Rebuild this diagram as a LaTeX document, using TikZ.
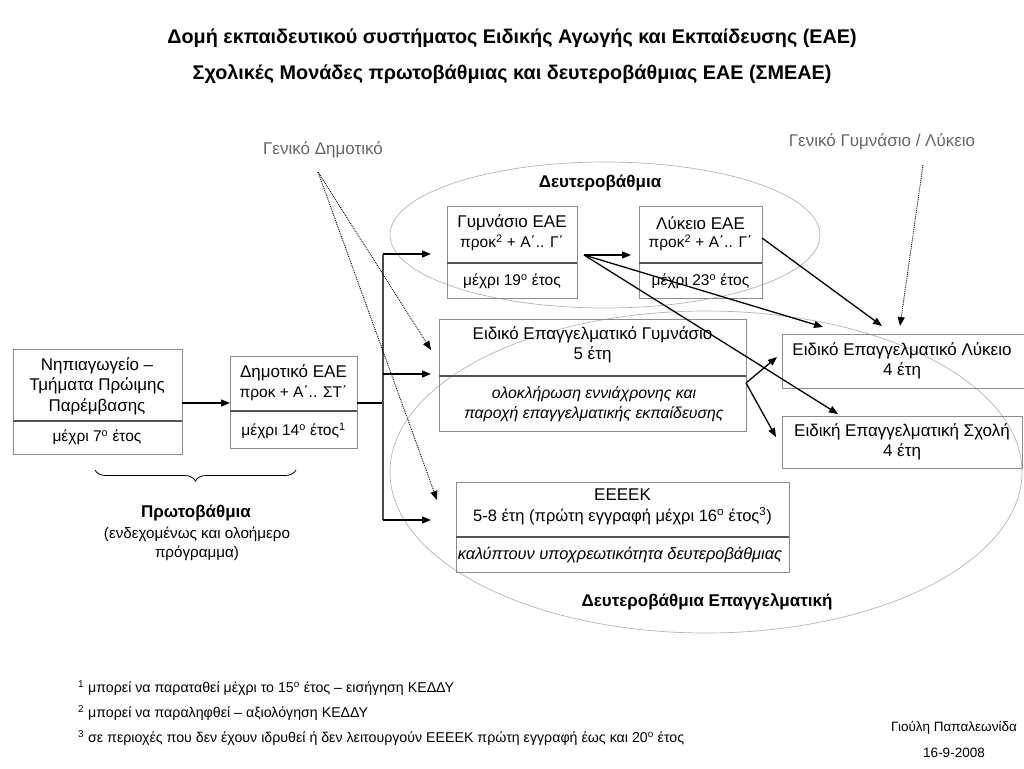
\documentclass[tikz,border=0pt]{standalone}
\usepackage{fontspec}
\setmainfont{Liberation Sans}
\usetikzlibrary{arrows.meta,decorations.pathreplacing}
\definecolor{boxgray}{HTML}{8C8C8C}
\definecolor{divgray}{HTML}{555555}
\definecolor{ellgray}{HTML}{B4B4B4}
\definecolor{labgray}{HTML}{666666}
\newcommand{\smalltx}{\fontsize{15.5}{19}\selectfont}
\begin{document}
\begin{tikzpicture}[x=1pt,y=-1pt,
  box/.style={draw=boxgray, line width=0.9pt, inner sep=0pt, outer sep=0pt, anchor=north west},
  divline/.style={draw=divgray, line width=1.6pt},
  txt/.style={align=center, inner sep=0pt, font=\fontsize{17}{20.5}\selectfont},
  itx/.style={align=center, inner sep=0pt, font=\fontsize{15.8}{19.5}\selectfont\itshape},
  arr/.style={line width=1.3pt, -{Triangle[length=9pt,width=7pt]}},
  plain/.style={line width=1.3pt},
  dotarr/.style={line width=0.9pt, densely dotted, -{Triangle[length=9pt,width=7pt]}},
  ell/.style={draw=ellgray, line width=0.7pt},
  title/.style={inner sep=0pt, font=\fontsize{19.8}{22}\selectfont\bfseries},
  lab/.style={inner sep=0pt, text=labgray, font=\fontsize{17}{20}\selectfont},
  blab/.style={inner sep=0pt, align=center, font=\fontsize{17}{20}\selectfont\bfseries},
  foot/.style={inner sep=0pt, anchor=west, font=\fontsize{14.2}{17}\selectfont},
  sig/.style={inner sep=0pt, font=\fontsize{13.5}{16}\selectfont}
]
\useasboundingbox (0,0) rectangle (1024,768);

% titles
\node[title] (t1) at (512,38) {Δομή εκπαιδευτικού συστήματος Ειδικής Αγωγής και Εκπαίδευσης (ΕΑΕ)};
\node[title] (t2) at (512,74) {Σχολικές Μονάδες πρωτοβάθμιας και δευτεροβάθμιας ΕΑΕ (ΣΜΕΑΕ)};

% ellipses
\draw[ell] (605,235) ellipse [x radius=215, y radius=73];
\draw[ell] (706,472) ellipse [x radius=316, y radius=161];
\node[blab] (deut) at (600,183) {Δευτεροβάθμια};
\node[blab] (deutep) at (707,602) {Δευτεροβάθμια Επαγγελματική};

% gray labels
\node[lab] (gd) at (323,150) {Γενικό Δημοτικό};
\node[lab] (gg) at (882,142) {Γενικό Γυμνάσιο / Λύκειο};

% Nipiagogeio
\node[box, minimum width=169pt, minimum height=105pt] (nip) at (13,349) {};
\node[txt] (nipT) at (97,386) {Νηπιαγωγείο –\\Τμήματα Πρώιμης\\Παρέμβασης};
\node[txt] (nipB) at (97,437) {\smalltx μέχρι 7\textsuperscript{ο} έτος};
\draw[divline] (nip.west |- 0,421) -- (nip.east |- 0,421);

% Dimotiko
\node[box, minimum width=127pt, minimum height=92pt] (dim) at (230,356) {};
\node[txt] (dimT) at (293.5,373) {Δημοτικό ΕΑΕ};
\node[txt] (dimT2) at (293.5,393) {\smalltx προκ + Α΄.. ΣΤ΄};
\node[txt] (dimB) at (293.5,431) {\smalltx μέχρι 14\textsuperscript{ο} έτος\textsuperscript{1}};
\draw[divline] (dim.west |- 0,411) -- (dim.east |- 0,411);

% Gymnasio EAE
\node[box, minimum width=130pt, minimum height=92pt] (gym) at (447,206) {};
\node[txt] (gymT) at (512,223) {Γυμνάσιο ΕΑΕ};
\node[txt] (gymT2) at (512,243) {\smalltx προκ\textsuperscript{2} + Α΄.. Γ΄};
\node[txt] (gymB) at (512,281) {\smalltx μέχρι 19\textsuperscript{ο} έτος};
\draw[divline] (gym.west |- 0,263) -- (gym.east |- 0,263);

% Lykeio EAE
\node[box, minimum width=123pt, minimum height=92pt] (lyk) at (639,206) {};
\node[txt] (lykT) at (700.5,223) {Λύκειο ΕΑΕ};
\node[txt] (lykT2) at (700.5,243) {\smalltx προκ\textsuperscript{2} + Α΄.. Γ΄};
\node[txt] (lykB) at (700.5,281) {\smalltx μέχρι 23\textsuperscript{ο} έτος};
\draw[divline] (lyk.west |- 0,263) -- (lyk.east |- 0,263);

% Eidiko Epaggelmatiko Gymnasio
\node[box, minimum width=307pt, minimum height=112pt] (epag) at (439,319) {};
\node[txt] (epagT) at (592.5,345) {Ειδικό Επαγγελματικό Γυμνάσιο\\5 έτη};
\node[itx] (epagB) at (594,404) {ολοκλήρωση εννιάχρονης και\\παροχή επαγγελματικής εκπαίδευσης};
\draw[divline] (epag.west |- 0,376) -- (epag.east |- 0,376);

% EEEEK
\node[box, minimum width=333pt, minimum height=90pt] (eek) at (456,482) {};
\node[txt] (eekT) at (622.5,507) {ΕΕΕΕΚ\\\fontsize{16.5}{19}\selectfont 5-8 έτη (πρώτη εγγραφή μέχρι 16\textsuperscript{ο} έτος\textsuperscript{3})};
\node[itx] (eekB) at (620,555) {\fontsize{16.4}{19}\selectfont καλύπτουν υποχρεωτικότητα δευτεροβάθμιας};
\draw[divline] (eek.west |- 0,537) -- (eek.east |- 0,537);

% EPAL
\node[box, minimum width=242pt, minimum height=54pt] (epal) at (782,334) {};
\node[txt] (epalT) at (902,361) {Ειδικό Επαγγελματικό Λύκειο\\4 έτη};

% EPAS
\node[box, minimum width=240pt, minimum height=52pt] (epas) at (782,416) {};
\node[txt] (epasT) at (902,442) {Ειδική Επαγγελματική Σχολή\\4 έτη};

% Primary label
\draw[line width=0.8pt, decorate, decoration={brace, mirror, amplitude=11pt}] (95,470) -- (296,470);
\node[blab] (prot) at (196,513) {Πρωτοβάθμια};
\node[txt, font=\fontsize{15.2}{19.5}\selectfont] (protB) at (197,544) {(ενδεχομένως και ολοήμερο\\πρόγραμμα)};

% connectors
\coordinate (jd) at (383,403);
\coordinate (jtop) at (383,254);
\coordinate (jmid) at (383,374);
\coordinate (jbot) at (383,520);
\draw[arr] (nip.east |- 0,403) -- (dim.west |- 0,403);
\draw[plain] (dim.east |- 0,403) -- (jd);
\draw[line width=1.1pt, draw=black!70] (jtop) -- (jbot);
\draw[arr] (jtop) -- (431,254);
\draw[arr] (jmid) -- (431,374);
\draw[arr] (jbot) -- (431,520);

\coordinate (gs) at (584,255);
\draw[arr] (gs) -- (631,255);
\draw[arr] (gs) -- (823,327);
\draw[arr] (gs) -- (838,414);
\draw[arr] (lyk.east |- 0,238) -- (882,326);

\coordinate (es) at (746,383);
\draw[arr] (es) -- (777,357);
\draw[arr] (es) -- (776,437);

% dotted
\coordinate (gds) at (318,172);
\draw[dotarr] (gds) -- (431,350);
\draw[dotarr] (gds) -- (437,500);
\draw[dotarr] (923,165) -- (900,326);

% footnotes
\node[foot] (f1) at (78,688) {\textsuperscript{1} μπορεί να παραταθεί μέχρι το 15\textsuperscript{ο} έτος – εισήγηση ΚΕΔΔΥ};
\node[foot] (f2) at (78,713) {\textsuperscript{2} μπορεί να παραληφθεί – αξιολόγηση ΚΕΔΔΥ};
\node[foot] (f3) at (78,738) {\textsuperscript{3} σε περιοχές που δεν έχουν ιδρυθεί ή δεν λειτουργούν ΕΕΕΕΚ πρώτη εγγραφή έως και 20\textsuperscript{ο} έτος};

% signature
\node[sig] (s1) at (954,728) {Γιούλη Παπαλεωνίδα};
\node[sig] (s2) at (954,753) {16-9-2008};
\end{tikzpicture}
\end{document}
